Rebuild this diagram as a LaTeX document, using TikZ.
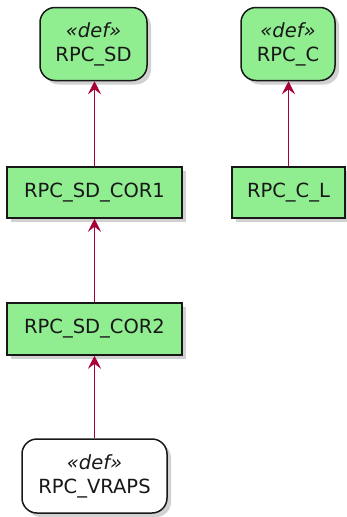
\documentclass[tikz,border=0pt]{standalone}
\usepackage{fontspec}
\setmainfont{DejaVu Sans}
\usetikzlibrary{shadows,arrows.meta}
\definecolor{boxgreen}{HTML}{90EE90}
\definecolor{linkred}{HTML}{A80036}
\definecolor{edge}{HTML}{181818}
\tikzset{
  x=1pt, y=-1pt,
  base/.style={draw=edge, line width=1.5pt, text=edge, align=center,
    font=\fontsize{19.5}{24}\selectfont, inner sep=0pt,
    drop shadow={shadow xshift=4pt, shadow yshift=-4pt, opacity=0.3, fill=black!60}},
  defbox/.style={base, rounded corners=15pt, fill=boxgreen},
  plainbox/.style={base, fill=boxgreen},
  whitebox/.style={base, rounded corners=15pt, fill=white},
  link/.style={draw=linkred, line width=1.1pt,
    -{Stealth[length=13pt, width=13pt, inset=5pt]}},
}
\newcommand{\stereo}[1]{{\itshape «#1»}}
\begin{document}
\begin{tikzpicture}
\useasboundingbox (0,0) rectangle (347,517);
\node[defbox, minimum width=107pt, minimum height=73pt] (sd) at (93.5,44) {\stereo{def}\\RPC\_SD};
\node[defbox, minimum width=94pt, minimum height=73pt] (c) at (288,44) {\stereo{def}\\RPC\_C};
\node[plainbox, minimum width=175pt, minimum height=51pt] (cor1) at (94.5,192.5) {RPC\_SD\_COR1};
\node[plainbox, minimum width=113pt, minimum height=51pt] (cl) at (288.5,192.5) {RPC\_C\_L};
\node[plainbox, minimum width=175pt, minimum height=52pt] (cor2) at (94.5,329) {RPC\_SD\_COR2};
\node[whitebox, minimum width=145pt, minimum height=74pt] (vraps) at (94.5,476) {\stereo{def}\\RPC\_VRAPS};
\draw[link] (cor1.north) -- (cor1.north |- sd.south);
\draw[link] (cl.north) -- (cl.north |- c.south);
\draw[link] (cor2.north) -- (cor1.south);
\draw[link] (vraps.north) -- (vraps.north |- cor2.south);
\end{tikzpicture}
\end{document}
